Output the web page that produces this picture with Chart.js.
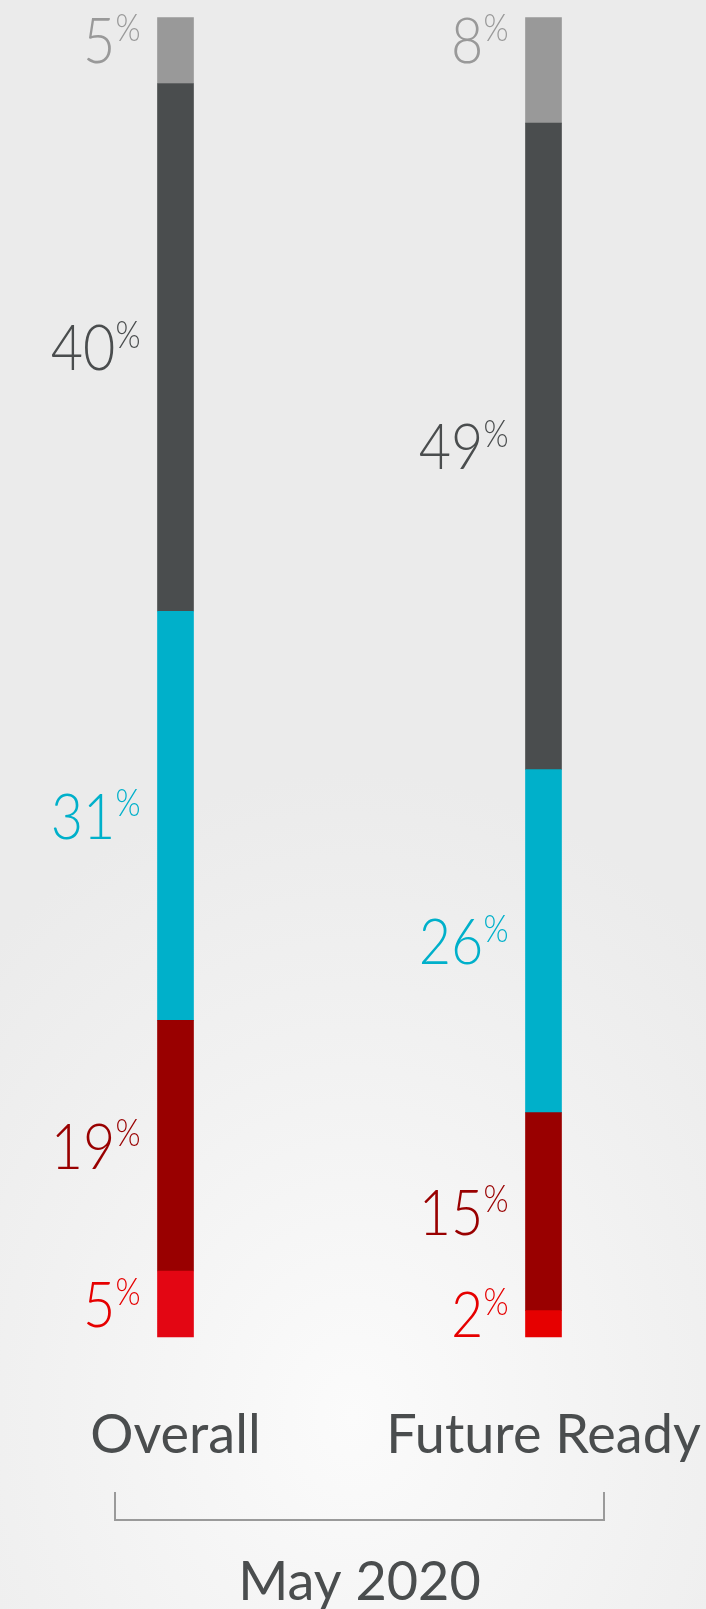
<!DOCTYPE html>
<html><head><meta charset="utf-8">
<script src="https://cdn.jsdelivr.net/npm/chart.js@4.4.1/dist/chart.umd.min.js"></script>
<style>
html,body{margin:0;padding:0;width:706px;height:1609px;overflow:hidden;
background: radial-gradient(ellipse 75% 40% at 50% 88%, #fbfbfb 0%, #f1f1f1 60%, #ebebeb 100%);}
canvas{display:block;}
</style></head><body>
<canvas id="c" width="706" height="1609"></canvas>
<script>
// ---- data ----
const categories = ['Overall', 'Future Ready'];
const groupLabel = 'May 2020';
const redValues = [5, 2];
const darkRedValues = [19, 15];
const cyanValues = [31, 26];
const darkGreyValues = [40, 49];
const lightGreyValues = [5, 8];

const series = [
  { name: 'Red', data: redValues, color: ['#e30613', '#e60000'], label: '#e60000' },
  { name: 'Dark red', data: darkRedValues, color: '#990000', label: '#990000' },
  { name: 'Cyan', data: cyanValues, color: '#00b0ca', label: '#00b0ca' },
  { name: 'Dark grey', data: darkGreyValues, color: '#4a4d4e', label: '#4a4d4e' },
  { name: 'Light grey', data: lightGreyValues, color: '#999999', label: '#999999' }
];

const FONT = 'Lato';

const segLabels = {
  id: 'segLabels',
  afterDatasetsDraw(chart) {
    const { ctx, chartArea } = chart;
    const numSize = 64, pctSize = 37, sx = 0.87;
    const digitH = numSize * 0.7165;
    const lastDs = chart.data.datasets.length - 1;
    chart.data.datasets.forEach((ds, di) => {
      const meta = chart.getDatasetMeta(di);
      meta.data.forEach((bar, i) => {
        const v = ds.data[i];
        const top = Math.min(bar.y, bar.base), bottom = Math.max(bar.y, bar.base);
        let cy = (top + bottom) / 2;
        if (di === lastDs) cy = top + digitH / 2;
        cy = Math.max(chartArea.top + digitH / 2, Math.min(chartArea.bottom - digitH / 2, cy));
        const right = bar.x - bar.width / 2 - 17;
        ctx.save();
        ctx.fillStyle = ds.labelColor;
        ctx.textBaseline = 'alphabetic';
        ctx.textAlign = 'left';
        ctx.font = `300 ${pctSize}px ${FONT}`;
        const pw = ctx.measureText('%').width * sx;
        ctx.font = `300 ${numSize}px ${FONT}`;
        const nText = String(v);
        const nw = ctx.measureText(nText).width * sx;
        const baseY = cy + digitH / 2;
        const nx = right - pw - nw;
        ctx.save();
        ctx.translate(nx, baseY);
        ctx.scale(sx, 1);
        ctx.fillText(nText, 0, 0);
        ctx.restore();
        ctx.font = `300 ${pctSize}px ${FONT}`;
        ctx.save();
        ctx.translate(right - pw, baseY - digitH - 3 + pctSize * 0.7165);
        ctx.scale(sx, 1);
        ctx.fillText('%', 0, 0);
        ctx.restore();
        ctx.restore();
      });
    });
  }
};

const bracket = {
  id: 'bracket',
  afterDraw(chart) {
    const { ctx } = chart;
    const xs = chart.scales.x;
    const x0 = xs.getPixelForTick(0) - 60.5;
    const x1 = xs.getPixelForTick(categories.length - 1) + 60.5;
    const yLine = 1520, yTop = 1492;
    ctx.save();
    ctx.strokeStyle = '#9a9a9a';
    ctx.lineWidth = 2;
    ctx.beginPath();
    ctx.moveTo(x0, yTop);
    ctx.lineTo(x0, yLine);
    ctx.lineTo(x1, yLine);
    ctx.lineTo(x1, yTop);
    ctx.stroke();
    ctx.restore();
  }
};

new Chart(document.getElementById('c'), {
  type: 'bar',
  data: {
    labels: categories,
    datasets: series.map(s => ({
      label: s.name,
      data: s.data,
      backgroundColor: s.color,
      labelColor: s.label,
      borderWidth: 0,
      barThickness: 36,
      clip: false
    }))
  },
  options: {
    responsive: false,
    animation: false,
    layout: { padding: { top: 17.5, left: 175.5, right: 162.5, bottom: 0 } },
    plugins: { legend: { display: false }, tooltip: { enabled: false } },
    scales: {
      x: {
        stacked: true,
        offset: false,
        grid: { display: false, drawTicks: false },
        border: { display: false },
        ticks: {
          color: '#4a4d4e',
          font: { family: FONT, size: 54, lineHeight: '198px' },
          padding: 0,
          maxRotation: 0,
          autoSkip: false
        },
        title: {
          display: true,
          text: groupLabel,
          color: '#4a4d4e',
          font: { family: FONT, size: 54, lineHeight: 0.9 },
          padding: { top: 23.4, bottom: 2 }
        }
      },
      y: { stacked: true, display: false, min: 0, max: 100 }
    }
  },
  plugins: [segLabels, bracket]
});
</script>
</body></html>
